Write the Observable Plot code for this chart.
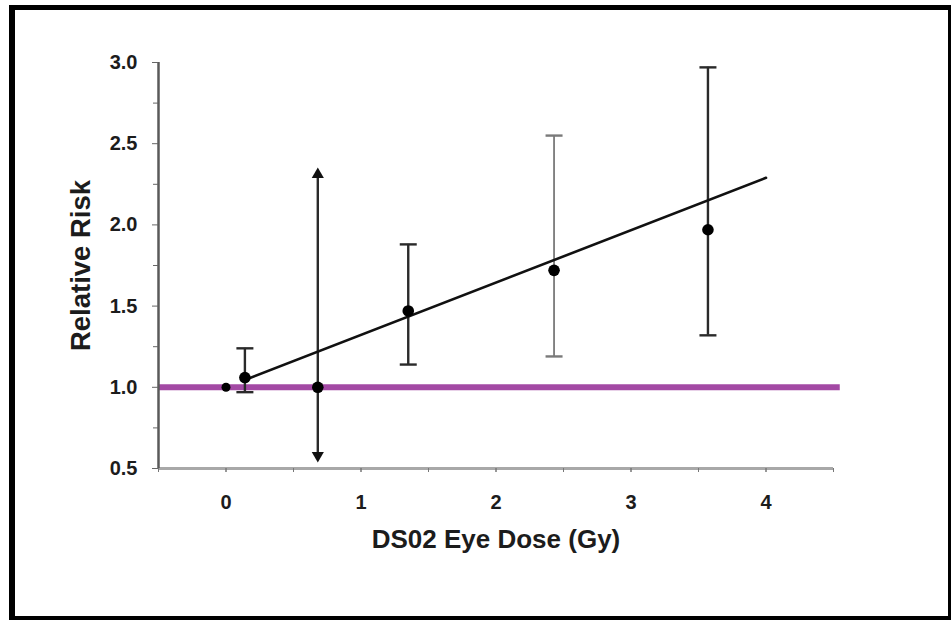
<!DOCTYPE html>
<html><head><meta charset="utf-8">
<script src="https://cdn.jsdelivr.net/npm/d3@7"></script>
<script src="https://cdn.jsdelivr.net/npm/@observablehq/plot@0.6"></script>
<style>
html,body{margin:0;padding:0;background:#fff;}
#wrap{position:relative;width:951px;height:620px;overflow:hidden;}
#frame{position:absolute;left:9px;top:5px;width:942px;height:615px;box-sizing:border-box;border-style:solid;border-color:#000;border-width:5px 3px 4px 6px;pointer-events:none;}
#chart svg{display:block;}
#chart g[aria-label="y-axis tick label"], #chart g[aria-label="y-axis tick label"] text,
#chart g[aria-label="x-axis tick label"], #chart g[aria-label="x-axis tick label"] text {font-size:20px;font-weight:bold;}
</style></head><body>
<div id="wrap"><div id="chart"></div><div id="frame"></div></div>
<script>
// Data
const dose     = [0, 0.14, 0.68, 1.35, 2.43, 3.57];
const relRisk  = [1.0, 1.06, 1.0, 1.47, 1.72, 1.97];
const ciLow    = [null, 0.97, 0.58, 1.14, 1.19, 1.32];
const ciHigh   = [null, 1.24, 2.31, 1.88, 2.55, 2.97];
const openEnded = [false, false, true, false, false, false];
const barTone  = ["dark", "dark", "dark", "dark", "light", "dark"];
const fitDose  = [0.14, 4.0];
const fitRisk  = [1.045, 2.29];
const baselineRisk = 1.0;
const baselineSpan = [-0.5, 4.55];
const xTickLabels = [0, 1, 2, 3, 4];
const xMinorTicks = [-0.5, 0, 0.5, 1, 1.5, 2, 2.5, 3, 3.5, 4, 4.5];
const yTickLabels = [0.5, 1.0, 1.5, 2.0, 2.5, 3.0];
const yMinorTicks = [0.75, 1.25, 1.75, 2.25, 2.75];
const xDomain = [-0.5, 4.5];
const yDomain = [0.5, 3.0];
const xTitle = "DS02 Eye Dose (Gy)";
const yTitle = "Relative Risk";

const points = dose.map((d, i) => ({dose: d, rr: relRisk[i], lo: ciLow[i], hi: ciHigh[i], open: openEnded[i], tone: barTone[i], first: i === 0}));
const bars = points.filter(p => p.lo != null);
const caps = bars.filter(p => !p.open).flatMap(p => [{dose: p.dose, rr: p.lo, tone: p.tone}, {dose: p.dose, rr: p.hi, tone: p.tone}]);
const arrows = bars.filter(p => p.open).flatMap(p => [{dose: p.dose, rr: p.hi, rot: 0}, {dose: p.dose, rr: p.lo, rot: 180}]);
const fit = fitDose.map((d, i) => ({dose: d, rr: fitRisk[i]}));
const baseline = [{rr: baselineRisk, x1: baselineSpan[0], x2: baselineSpan[1]}];

const hline = {draw(ctx, size) { const r = Math.sqrt(size / Math.PI); ctx.moveTo(-r, 0); ctx.lineTo(r, 0); }};
const toneColor = t => t === "light" ? "#7a7a7a" : "#2a2a2a";

const chart = Plot.plot({
  width: 951, height: 620,
  marginLeft: 158, marginRight: 118, marginTop: 62, marginBottom: 152,
  x: {domain: xDomain},
  y: {domain: yDomain},
  style: {fontFamily: "'Liberation Sans', Arial, sans-serif", background: "white", color: "#1c1c1c"},
  marks: [
    Plot.ruleY(baseline, {y: "rr", x1: "x1", x2: "x2", stroke: "#a349a4", strokeWidth: 6}),
    Plot.ruleY([yDomain[0]], {stroke: "#a8a8a8", strokeWidth: 3}),
    Plot.ruleX([xDomain[0]], {stroke: "#5a5a5a", strokeWidth: 2.5}),
    Plot.axisY({ticks: yTickLabels, tickFormat: d3.format(".1f"), tickSize: 6, tickPadding: 15, fontSize: 20, fontWeight: "bold", stroke: "#666", label: null}),
    Plot.axisY({ticks: yMinorTicks, tickFormat: () => "", tickSize: 5, stroke: "#666", label: null}),
    Plot.axisX({ticks: xTickLabels, tickFormat: d3.format("d"), tickSize: 4, tickPadding: 22, fontSize: 20, fontWeight: "bold", stroke: "#777", label: null}),
    Plot.axisX({ticks: xMinorTicks, tickFormat: () => "", tickSize: 4, stroke: "#777", label: null}),
    Plot.ruleX(bars, {x: "dose", y1: "lo", y2: "hi", stroke: d => toneColor(d.tone), strokeWidth: d => d.tone === "light" ? 1.8 : 2.4}),
    Plot.dot(caps, {x: "dose", y: "rr", symbol: hline, r: 8.5, stroke: d => toneColor(d.tone), strokeWidth: 2.4, fill: "none"}),
    Plot.dot(arrows, {x: "dose", y: "rr", symbol: "triangle", rotate: "rot", r: 4.5, fill: "#111", stroke: "none"}),
    Plot.line(fit, {x: "dose", y: "rr", stroke: "#111", strokeWidth: 2.6}),
    Plot.dot(points.filter(p => p.first), {x: "dose", y: "rr", r: 4.5, fill: "#000", stroke: "none"}),
    Plot.dot(points.filter(p => !p.first), {x: "dose", y: "rr", r: 5.8, fill: "#000", stroke: "none"}),
    Plot.text([xTitle], {frameAnchor: "bottom", dy: 71, fontSize: 26, fontWeight: "bold", lineAnchor: "middle", textAnchor: "middle", fill: "#1c1c1c"}),
    Plot.text([yTitle], {frameAnchor: "left", dx: -77, rotate: -90, fontSize: 27.5, fontWeight: "bold", lineAnchor: "middle", textAnchor: "middle", fill: "#1c1c1c"})
  ]
});
document.getElementById("chart").append(chart);
</script>
</body></html>
